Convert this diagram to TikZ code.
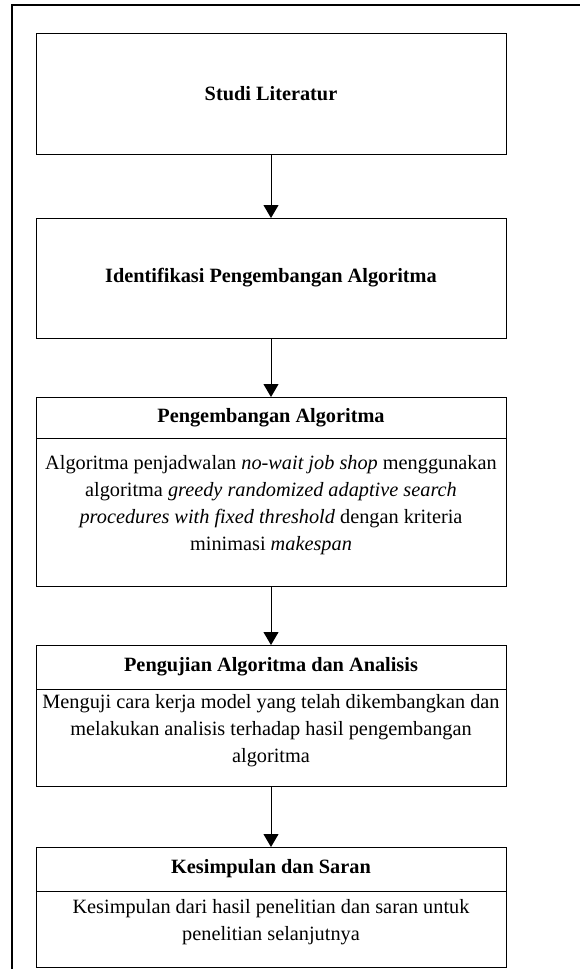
\documentclass[tikz,border=0pt]{standalone}
\usepackage{fontspec}
\setmainfont{Liberation Serif}
\usetikzlibrary{arrows.meta,positioning}
\newcommand{\bodytext}[2]{\parbox[c][#1][c]{470pt}{\centering #2\par\vspace{14pt}}}

\begin{document}
\begin{tikzpicture}[
  x=1pt, y=-1pt,
  font=\fontsize{20.3}{27}\selectfont,
  node distance=59pt,
  stage/.style={draw, line width=1pt, minimum width=470pt, inner sep=0pt, outer sep=0pt, align=center, font=\fontsize{20.3}{27}\selectfont\bfseries},
  head/.style={stage, minimum height=43pt},
  body/.style={draw, line width=1pt, minimum width=470pt, inner sep=0pt, outer sep=0pt, align=center},
  flow/.style={-{Triangle[width=15pt,length=13pt]}, line width=1pt},
  frame/.style={line width=2.3pt}
]
\useasboundingbox (0,0) rectangle (579,969);
\draw[frame] (12,990) -- (12,5) -- (600,5);

\node[stage, minimum height=121pt, anchor=north] (lit) at (271,33) {Studi Literatur};
\node[stage, minimum height=120pt, below=64pt of lit] (ident) {Identifikasi Pengembangan Algoritma};

\node[head, minimum height=41pt, below=of ident] (dev) {Pengembangan Algoritma};
\node[body, below=0pt of dev] (devtxt) {\bodytext{148pt}{Algoritma penjadwalan \textit{no-wait job shop} menggunakan\\
  algoritma \textit{greedy randomized adaptive search}\\
  \textit{procedures with fixed threshold} dengan kriteria\\
  minimasi \textit{makespan}}};

\node[head, minimum height=44pt, below=of devtxt] (test) {Pengujian Algoritma dan Analisis};
\node[body, below=0pt of test] (testtxt) {\bodytext{97pt}{Menguji cara kerja model yang telah dikembangkan dan\\
  melakukan analisis terhadap hasil pengembangan\\
  algoritma}};

\node[head, minimum height=44pt, below=61pt of testtxt] (concl) {Kesimpulan dan Saran};
\node[body, below=0pt of concl] (concltxt) {\bodytext{76pt}{Kesimpulan dari hasil penelitian dan saran untuk\\
  penelitian selanjutnya}};

\draw[flow] (lit) -- (ident);
\draw[flow] (ident) -- (dev);
\draw[flow] (devtxt) -- (test);
\draw[flow] (testtxt) -- (concl);
\end{tikzpicture}
\end{document}
